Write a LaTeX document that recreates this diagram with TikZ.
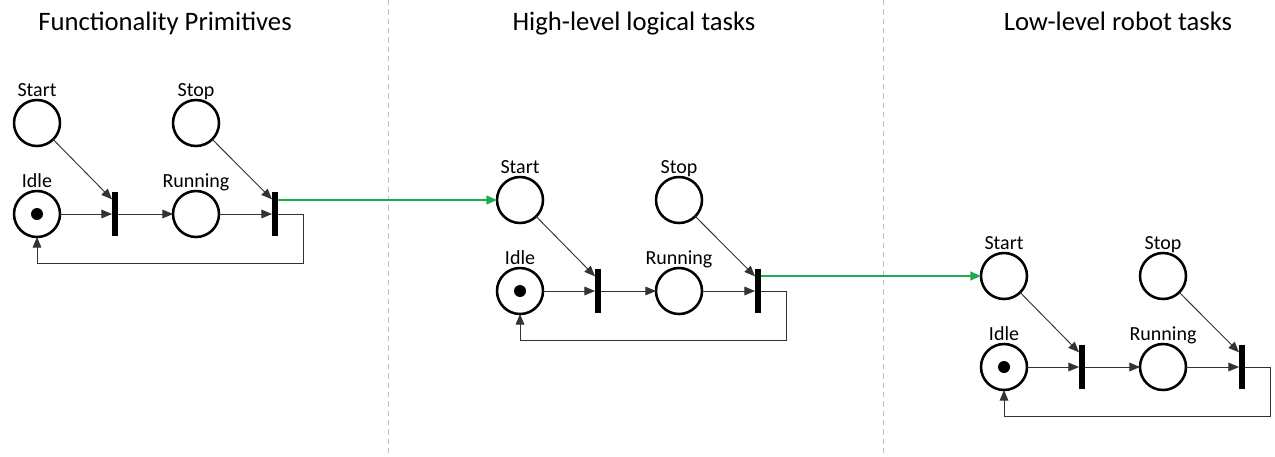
\documentclass[tikz,border=0pt]{standalone}
\usepackage{fontspec}
\setmainfont{Carlito}
\usetikzlibrary{arrows.meta,calc}
\tikzset{
  place/.style={circle,draw=black,line width=1.9pt,minimum size=34.5pt,inner sep=0pt,outer sep=0pt},
  trans/.style={rectangle,fill=black,draw=none,minimum width=4.5pt,minimum height=33pt,inner sep=0pt,outer sep=0pt},
  lbl/.style={font=\fontsize{15}{15}\selectfont,inner sep=0pt,anchor=base,yshift=3pt},
  title/.style={font=\fontsize{20}{20}\selectfont,inner sep=0pt,anchor=base},
  arc/.style={draw=black!80,line width=0.7pt,-{Triangle[length=8pt,width=6.5pt]}},
  flow/.style={line width=1.5pt,-{Triangle[length=8pt,width=6.5pt]}},
  sep/.style={draw=black!25,line width=0.7pt,dash pattern=on 4pt off 3pt},
  token/.style={circle,fill=black,minimum size=9pt,inner sep=0pt}
}
\definecolor{flowgreen}{RGB}{30,172,80}
\newcommand{\pnet}[3]{%
  \node[place,label={[lbl]above:Start}] (#1s) at (#2,#3) {};
  \node[place,label={[lbl]above:Idle}] (#1i) at (#2,#3+91) {};
  \node[token] (#1k) at (#1i) {};
  \node[trans] (#1t) at (#2+78,#3+91) {};
  \node[place,label={[lbl]above:Running}] (#1r) at (#2+159,#3+91) {};
  \node[place,label={[lbl]above:Stop}] (#1p) at (#2+159,#3) {};
  \node[trans] (#1u) at (#2+238,#3+91) {};
  \draw[arc] (#1s) -- ([yshift=11pt]#1t.west);
  \draw[arc] (#1i) -- (#1t);
  \draw[arc] (#1t) -- (#1r);
  \draw[arc] (#1r) -- (#1u);
  \draw[arc] (#1p) -- ([yshift=11pt]#1u.west);
  \draw[arc] (#1u.east) -- ++(25,0) -- ++(0,49) -| (#1i.south);
}
\begin{document}
\begin{tikzpicture}[x=0.75pt,y=-0.75pt]
\useasboundingbox[fill=white] (0,0) rectangle (1275,457);
\draw[sep] (388,0) -- (388,457);
\draw[sep] (883,0) -- (883,457);
\node[title] (h1) at (165,30) {Functionality Primitives};
\node[title] (h2) at (634,30) {High-level logical tasks};
\node[title] (h3) at (1118,30) {Low-level robot tasks};
\pnet{a}{37}{123}
\pnet{b}{520}{200}
\pnet{c}{1004}{276}
\draw[flow,draw=flowgreen,fill=flowgreen] (bs.west -| au.east) -- (bs.west);
\draw[flow,draw=flowgreen,fill=flowgreen] (cs.west -| bu.east) -- (cs.west);
\end{tikzpicture}
\end{document}
